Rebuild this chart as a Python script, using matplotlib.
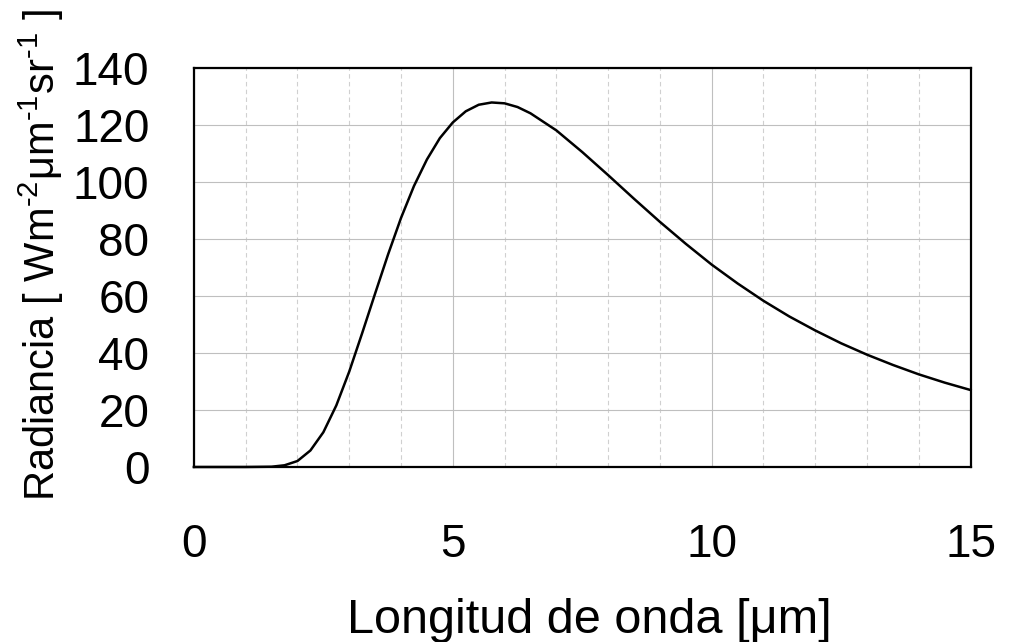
import matplotlib
matplotlib.use("Agg")
import matplotlib.pyplot as plt
from matplotlib.ticker import MultipleLocator

# 数据：光谱辐射亮度
wavelength = [0, 0.5, 1, 1.5, 1.75, 2, 2.25, 2.5, 2.75, 3, 3.25, 3.5, 3.75,
              4, 4.25, 4.5, 4.75, 5, 5.25, 5.5, 5.75, 6, 6.25, 6.5, 7, 7.5,
              8, 8.5, 9, 9.5, 10, 10.5, 11, 11.5, 12, 12.5, 13, 13.5, 14,
              14.5, 15]
radiance = [0, 0, 0, 0.1, 0.6, 2.1, 5.8, 12.2, 21.6, 33.5, 47.0, 60.9, 74.6,
            87.4, 98.6, 107.9, 115.4, 120.9, 124.8, 127.1, 127.9, 127.6,
            126.3, 124.1, 118.1, 110.5, 102.4, 94.1, 86.0, 78.3, 71.0, 64.4,
            58.3, 52.8, 47.9, 43.4, 39.4, 35.8, 32.5, 29.6, 27.0]

x_ticks = [0, 5, 10, 15]
y_ticks = [0, 20, 40, 60, 80, 100, 120, 140]

plt.rcParams["font.family"] = ["Liberation Sans", "DejaVu Sans"]
plt.rcParams["mathtext.fontset"] = "custom"
plt.rcParams["mathtext.rm"] = "Liberation Sans"

fig = plt.figure(figsize=(10.1, 6.42), dpi=100)
ax = fig.add_axes([0.192, 0.2726, 0.769, 0.6215])

ax.plot(wavelength, radiance, color="black", lw=1.8, clip_on=False, zorder=3,
        solid_joinstyle="round")

ax.set_xlim(0, 15)
ax.set_ylim(0, 140)
ax.set_xticks(x_ticks)
ax.set_yticks(y_ticks)
ax.xaxis.set_minor_locator(MultipleLocator(1))

ax.grid(which="major", color="#bfbfbf", lw=0.8, ls="-")
ax.grid(which="minor", axis="x", color="#d0d0d0", lw=0.8, ls=(0, (4, 3)))
ax.set_axisbelow(True)

ax.tick_params(which="both", length=0)
ax.tick_params(axis="x", labelsize=33, pad=40)
ax.tick_params(axis="y", labelsize=33, pad=32)

for s in ax.spines.values():
    s.set_linewidth(1.6)
    s.set_color("black")

fig.text(0.584, 0.014, "Longitud de onda [μm]", fontsize=35,
         ha="center", va="baseline")
fig.text(0.041, 0.603,
         r"Radiancia [ Wm$^{\text{-2}}$μm$^{\text{-1}}$sr$^{\text{-1}}$ ]",
         fontsize=30, rotation=90, ha="center", va="center")

fig.savefig("out.png", dpi=100)
